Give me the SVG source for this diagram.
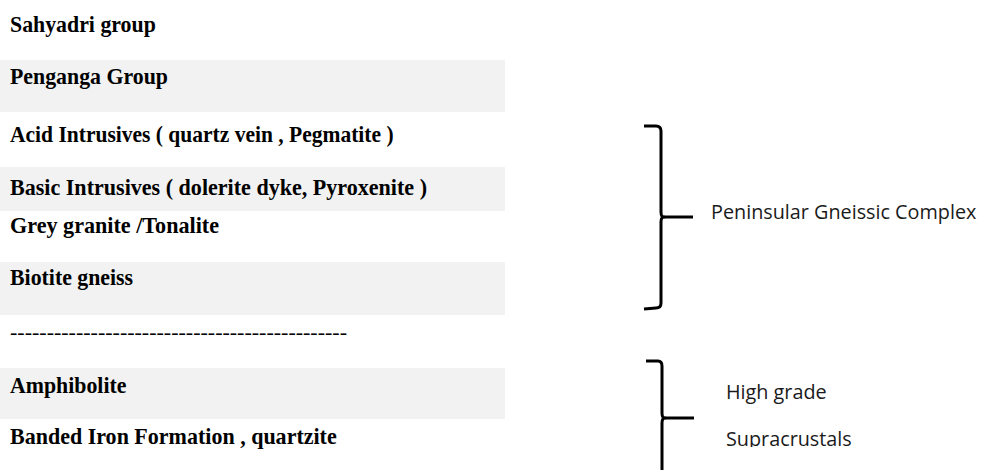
<svg xmlns="http://www.w3.org/2000/svg" width="983" height="470" viewBox="0 0 983 470">
<defs>
<style>
.band{fill:#f2f2f2}
.t{font-family:"Liberation Serif","Times New Roman",serif;font-weight:bold;font-size:24px;fill:#000}
.d{font-family:"Liberation Serif","Times New Roman",serif;font-size:22px;fill:#000}
.s{font-family:"Open Sans","Noto Sans",sans-serif;font-size:19.8px;fill:#1a1a1a}
.br{fill:none;stroke:#000;stroke-width:3;stroke-linecap:butt;stroke-linejoin:round}
</style>
<clipPath id="clipB"><rect x="0" y="0" width="983" height="447"/></clipPath>
</defs>
<rect width="983" height="470" fill="#fff"/>
<g id="bands">
<rect class="band" x="0" y="60" width="505" height="52"/>
<rect class="band" x="0" y="167" width="505" height="44"/>
<rect class="band" x="0" y="262" width="505" height="53"/>
<rect class="band" x="0" y="368" width="505" height="51"/>
</g>
<g id="n-sahyadri"><text class="t" transform="translate(10,32) scale(0.91,1)">Sahyadri group</text></g>
<g id="n-penganga"><text class="t" transform="translate(10,84) scale(0.91,1)">Penganga Group</text></g>
<g id="n-acid"><text class="t" transform="translate(10,142) scale(0.897,1)">Acid Intrusives ( quartz vein , Pegmatite )</text></g>
<g id="n-basic"><text class="t" transform="translate(10,195) scale(0.92,1)">Basic Intrusives ( dolerite dyke, Pyroxenite )</text></g>
<g id="n-grey"><text class="t" transform="translate(10,233) scale(0.923,1)">Grey granite /Tonalite</text></g>
<g id="n-biotite"><text class="t" transform="translate(10,285) scale(0.91,1)">Biotite gneiss</text></g>
<g id="n-divider"><text class="d" x="10" y="339">----------------------------------------------</text></g>
<g id="n-amphibolite"><text class="t" transform="translate(10,393) scale(0.91,1)">Amphibolite</text></g>
<g id="n-bif"><text class="t" transform="translate(10,444) scale(0.918,1)">Banded Iron Formation , quartzite</text></g>
<g id="connectors">
<path class="br" d="M644,126 L656,126 Q661,126 661,131 L661,212 Q661,217 664,217 Q661,217 661,222 L661,303 Q661,308 656,308 L644,309"/>
<path class="br" d="M664,217 L693,217"/>
<path class="br" d="M646,361 L658,361 Q662,361 662,366 L662,413 Q662,418 665,418 Q662,418 662,423 L662,470"/>
<path class="br" d="M665,418 L694,418"/>
</g>
<g id="n-pgc"><text class="s" x="711" y="219">Peninsular Gneissic Complex</text></g>
<g id="n-hg"><text class="s" x="726" y="399">High grade</text></g>
<g id="n-sc" clip-path="url(#clipB)"><text class="s" x="726" y="446">Supracrustals</text></g>
</svg>
